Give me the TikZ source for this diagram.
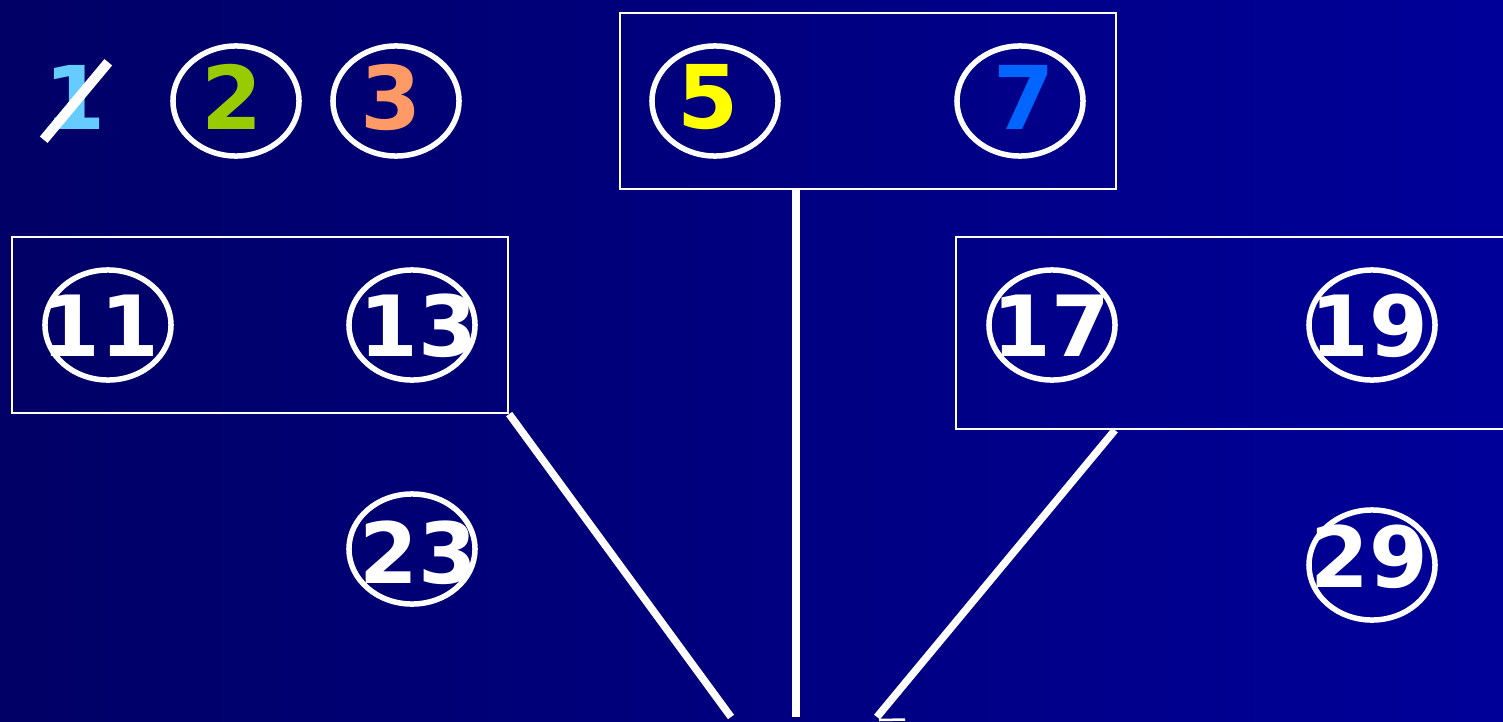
\documentclass[tikz,border=0pt]{standalone}
\usepackage{fontspec}
\setsansfont{DejaVu Sans}
\usepackage{tikz}
\usetikzlibrary{shapes.geometric,positioning}
\definecolor{bgleft}{HTML}{000066}
\definecolor{bgright}{HTML}{000099}
\definecolor{skyone}{HTML}{66CCFF}
\definecolor{limetwo}{HTML}{99CC00}
\definecolor{salmon}{HTML}{FF9966}
\definecolor{sunfive}{HTML}{FFFF00}
\definecolor{bluesev}{HTML}{0066FF}

\begin{document}
\begin{tikzpicture}[x=0.01cm,y=-0.01cm,font=\sffamily\bfseries,
  ring/.style={ellipse,draw=white,line width=0.055cm,minimum width=1.26cm,minimum height=1.1cm,inner sep=0pt},
  num/.style={inner sep=0pt,font=\sffamily\bfseries\fontsize{25}{30}\selectfont},
  bignum/.style={inner sep=0pt,text=white,font=\sffamily\bfseries\fontsize{24}{30}\selectfont},
  group/.style={draw=white,line width=0.02cm,inner sep=0pt},
  link/.style={draw=white,line width=0.075cm}]
  \useasboundingbox (0,0) rectangle (1503,721);
  \clip (0,0) rectangle (1503,721);
  \shade[left color=bgleft,right color=bgright] (0,0) rectangle (1503,721);
  % groups of primes (pixel grid, y downwards)
  \node[group,minimum width=4.96cm,minimum height=1.76cm] (top)   at (868,101)  {};
  \node[group,minimum width=4.96cm,minimum height=1.76cm] (left)  at (260,325)  {};
  \node[group,minimum width=6.04cm,minimum height=1.92cm] (right) at (1258,333) {};
  % first row: 1 struck out, 2 3 5 7 ringed
  \node[num,text=skyone] (n1) at (75,97) {1};
  \draw[white,line width=0.1cm] ([yshift=-0.1cm]n1.south west) -- ([shift={(0.02cm,0.02cm)}]n1.north east);
  \node[ring] (e2) at (236,101)  {};
  \node[num,text=limetwo] (n2) at (232,97) {2};
  \node[ring] (e3) at (396,101)  {};
  \node[num,text=salmon]  (n3) at (391,97) {3};
  \node[ring] (e5) at (715,101)  {};
  \node[num,text=sunfive] (n5) at (708,97) {5};
  \node[ring] (e7) at (1020,101) {};
  \node[num,text=bluesev] (n7) at (1024,97) {7};
  % second row
  \node[ring] (e11) at (108,325)  {};
  \node[bignum] (n11) at (100,326)  {11};
  \node[ring] (e13) at (412,325)  {};
  \node[bignum] (n13) at (418,326)  {13};
  \node[ring] (e17) at (1052,325) {};
  \node[bignum] (n17) at (1051,326) {17};
  \node[ring] (e19) at (1372,325) {};
  \node[bignum] (n19) at (1369,326) {19};
  % third row
  \node[ring] (e23) at (412,549)  {};
  \node[bignum] (n23) at (418,553)  {23};
  \node[ring] (e29) at (1372,565) {};
  \node[bignum] (n29) at (1369,557) {29};
  % lines running to the bottom edge
  \coordinate (endl) at (731,717);
  \coordinate (endm) at (796,717);
  \coordinate (endr) at (877,717);
  \coordinate (barb) at (905,719.5);
  \draw[link] (left.south east) -- (endl);
  \draw[link] (endm |- top.south) -- (endm);
  \draw[link] ([xshift=1.6cm]right.south west) -- (endr);
  \draw[white,line width=0.025cm] ([shift={(0.02cm,-0.03cm)}]endr) -- (barb);
\end{tikzpicture}
\end{document}
